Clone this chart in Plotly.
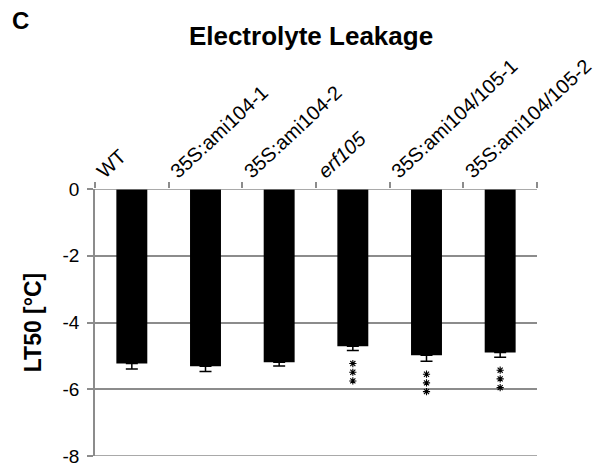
import plotly.graph_objects as go

categories = ["WT", "35S:ami104-1", "35S:ami104-2", "erf105", "35S:ami104/105-1", "35S:ami104/105-2"]
tick_text = ["WT", "35S:ami104-1", "35S:ami104-2", "<i>erf105</i>", "35S:ami104/105-1", "35S:ami104/105-2"]
lt50 = [-5.23, -5.31, -5.19, -4.71, -4.98, -4.90]
lt50_err = [0.16, 0.16, 0.11, 0.13, 0.18, 0.14]
significance = [0, 0, 0, 3, 3, 3]  # number of asterisks
y_ticks = [0, -2, -4, -6, -8]

FONT = "Liberation Sans, Arial, sans-serif"
GRID = "#8c8c8c"

W, H = 597, 465
ML, MR, MT, MB = 95, 60, 189, 9
plot_w = W - ML - MR
plot_h = H - MT - MB
px_per_unit = plot_h / 8.0

fig = go.Figure()
fig.add_trace(go.Bar(
    x=categories, y=lt50,
    marker=dict(color="black", line=dict(width=0)),
    error_y=dict(type="data", symmetric=False, array=[0] * len(lt50), arrayminus=lt50_err,
                 color="black", thickness=1.5, width=6),
    width=0.42,
))

# significance asterisks stacked vertically below the error bars
star_x, star_y = [], []
for c, v, e, n in zip(categories, lt50, lt50_err, significance):
    for k in range(n):
        star_x.append(c)
        star_y.append(v - e - (13 + 8.7 * k) / px_per_unit)
fig.add_trace(go.Scatter(
    x=star_x, y=star_y, mode="markers", hoverinfo="skip",
    marker=dict(symbol="asterisk-open", size=6, color="black", line=dict(color="black", width=1.1)),
))

fig.add_annotation(x=(10 - ML) / plot_w, y=(H - MB - 20) / plot_h, xref="paper", yref="paper",
                   text="<b>C</b>", showarrow=False, xanchor="left", yanchor="middle",
                   font=dict(size=24, family=FONT, color="black"))

# axis line at y=0 (top) and bottom gridline at -8
fig.add_shape(type="line", xref="x", yref="y", x0=-0.5, x1=5.5, y0=0, y1=0,
              line=dict(color=GRID, width=1.5))
fig.add_shape(type="line", xref="x", yref="y", x0=-0.5, x1=5.5, y0=-8, y1=-8,
              line=dict(color=GRID, width=1.5), layer="below")

fig.update_layout(
    width=W, height=H,
    margin=dict(l=ML, r=MR, t=MT, b=MB, autoexpand=False),
    paper_bgcolor="white", plot_bgcolor="white",
    showlegend=False,
    font=dict(family=FONT, color="black"),
    title=dict(text="<b>Electrolyte Leakage</b>", x=311 / W, xanchor="center",
               y=1 - 36 / H, yanchor="middle", font=dict(size=26, family=FONT, color="black")),
    xaxis=dict(side="top", tickangle=-43, tickmode="array", tickvals=categories, ticktext=tick_text,
               tickfont=dict(size=20, family=FONT, color="black"),
               showline=False, showgrid=False, zeroline=False, automargin=False,
               ticks="outside", tickson="boundaries", ticklen=6, tickcolor=GRID, tickwidth=1.5,
               ticklabelshift=-34, ticklabelstandoff=2,
               range=[-0.5, 5.5]),
    yaxis=dict(range=[-8, 0], tickvals=y_ticks, ticktext=[str(t) for t in y_ticks],
               tickfont=dict(size=19, family=FONT, color="black"),
               showgrid=True, gridcolor=GRID, gridwidth=1.5,
               showline=True, linecolor=GRID, linewidth=1.5,
               ticks="outside", ticklen=6, tickcolor=GRID, tickwidth=1.5,
               ticklabelstandoff=4, ticklabeloverflow="allow", automargin=False,
               zeroline=False,
               title=dict(text="<b>LT50 [°C]</b>", font=dict(size=23, family=FONT, color="black"),
                          standoff=14)),
    bargap=0.58,
)

fig.write_html("out.html")
